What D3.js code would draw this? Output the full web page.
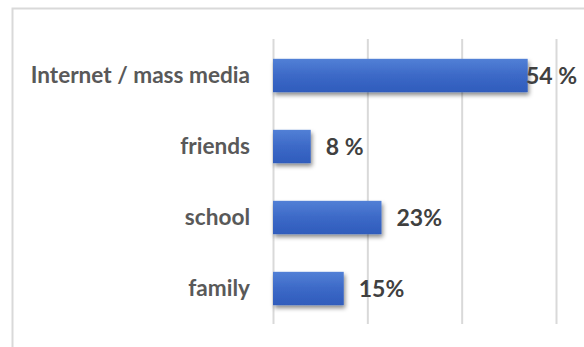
<!DOCTYPE html>
<html>
<head>
<meta charset="utf-8">
<script src="https://cdn.jsdelivr.net/npm/d3@7"></script>
<style>
  html, body { margin: 0; padding: 0; background: #fff; }
  svg { display: block; }
</style>
</head>
<body>
<svg id="chart" width="584" height="347"></svg>
<script>
// Sources of information, share of respondents (%)
const categories = ["Internet / mass media", "friends", "school", "family"];
const values = [54, 8, 23, 15];
const valueLabels = ["54 %", "8 %", "23%", "15%"];
const gridTicks = [0, 20, 40, 60];

const W = 584, H = 347;
const plot = { left: 273, right: 556, top: 39, bottom: 324 };
const font = "Lato, 'Open Sans', sans-serif";

const svg = d3.select("#chart");

// chart frame (continues past the right and bottom edges)
svg.append("rect")
  .attr("x", 12.5).attr("y", 8.5)
  .attr("width", W + 20).attr("height", H + 20)
  .attr("fill", "#fff")
  .attr("stroke", "#d9d9d9")
  .attr("stroke-width", 2);

const x = d3.scaleLinear().domain([0, 60]).range([plot.left, plot.right]);
const y = d3.scaleBand().domain(categories).range([plot.top + 1, plot.bottom]).paddingInner(0.53).paddingOuter(0.265);

const defs = svg.append("defs");
const grad = defs.append("linearGradient")
  .attr("id", "barFill").attr("x1", 0).attr("y1", 0).attr("x2", 0).attr("y2", 1);
grad.append("stop").attr("offset", "0%").attr("stop-color", "#5280d6");
grad.append("stop").attr("offset", "50%").attr("stop-color", "#3c69c7");
grad.append("stop").attr("offset", "100%").attr("stop-color", "#2f5cbc");

const shadow = defs.append("filter").attr("id", "barShadow")
  .attr("x", "-10%").attr("y", "-20%").attr("width", "130%").attr("height", "160%");
shadow.append("feDropShadow")
  .attr("dx", 1.5).attr("dy", 3).attr("stdDeviation", 2)
  .attr("flood-color", "#000").attr("flood-opacity", 0.45);

// vertical gridlines
const xAxis = d3.axisBottom(x).tickValues(gridTicks)
  .tickSize(-(plot.bottom - plot.top)).tickFormat("");
const gx = svg.append("g")
  .attr("transform", `translate(0,${plot.bottom})`)
  .call(xAxis);
gx.select(".domain").remove();
gx.selectAll(".tick line").attr("stroke", "#d9d9d9").attr("stroke-width", 2);

// bars
svg.append("g").selectAll("rect")
  .data(categories)
  .join("rect")
  .attr("x", x(0))
  .attr("y", d => y(d))
  .attr("width", (d, i) => x(values[i]) - x(0))
  .attr("height", y.bandwidth())
  .attr("fill", "url(#barFill)")
  .attr("filter", "url(#barShadow)");

// category labels
svg.append("g").selectAll("text")
  .data(categories)
  .join("text")
  .attr("x", plot.left - 23)
  .attr("y", d => y(d) + y.bandwidth() / 2 + 7)
  .attr("text-anchor", "end")
  .attr("font-family", font)
  .attr("font-weight", 700)
  .attr("font-size", 22.6)
  .attr("fill", "#595959")
  .text(d => d);

// value labels, kept inside the chart area
const labels = svg.append("g").selectAll("text")
  .data(categories)
  .join("text")
  .attr("y", d => y(d) + y.bandwidth() / 2 + 8)
  .attr("font-family", font)
  .attr("font-weight", 700)
  .attr("font-size", 23)
  .attr("fill", "#404040")
  .text((d, i) => valueLabels[i]);
labels.attr("x", function (d, i) {
  const w = this.getComputedTextLength();
  return Math.min(x(values[i]) + 15, 577 - w);
});
</script>
</body>
</html>
